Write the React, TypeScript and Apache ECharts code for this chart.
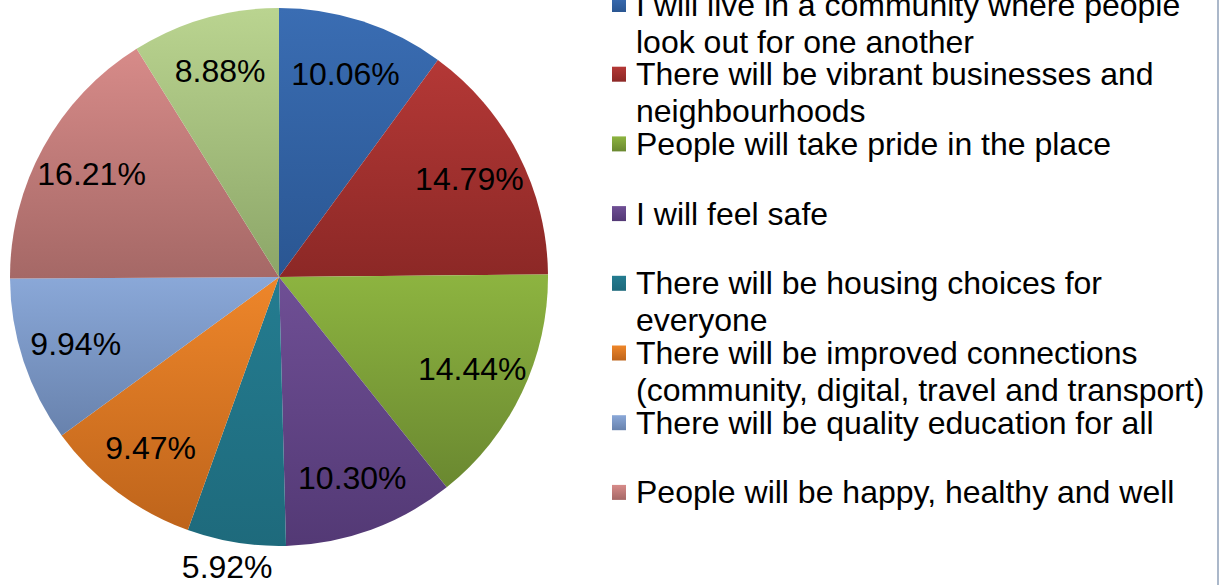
import React, { useEffect, useRef } from "react";
import * as echarts from "echarts";

const categories = [
  "I will live in a community where people look out for one another",
  "There will be vibrant businesses and neighbourhoods",
  "People will take pride in the place",
  "I will feel safe",
  "There will be housing choices for everyone",
  "There will be improved connections (community, digital, travel and transport)",
  "There will be quality education for all",
  "People will be happy, healthy and well",
  "Other",
];

const legendLines = [
  ["I will live in a community where people", "look out for one another"],
  ["There will be vibrant businesses and", "neighbourhoods"],
  ["People will take pride in the place", " "],
  ["I will feel safe", " "],
  ["There will be housing choices for", "everyone"],
  ["There will be improved connections", "(community, digital, travel and transport)"],
  ["There will be quality education for all", " "],
  ["People will be happy, healthy and well", " "],
  ["Other", " "],
];

const values = [10.06, 14.79, 14.44, 10.3, 5.92, 9.47, 9.94, 16.21, 8.88];

const topColors = ["#3A6DB3", "#B43836", "#8DB440", "#6F4F95", "#247C90", "#EE862A", "#8AA8D8", "#D78B89", "#BAD490"];
const bottomColors = ["#2A5692", "#8C2826", "#6A8830", "#533975", "#1E6A7C", "#BE641B", "#6882AD", "#A56866", "#8CA668"];

const outsideLabelIndex = 4;
const FONT = "'Liberation Sans', Arial, sans-serif";

export default function App() {
  const ref = useRef<HTMLDivElement>(null);
  useEffect(() => {
    if (!ref.current) return;
    const chart = echarts.init(ref.current, undefined, { renderer: "svg" });
    const grad = (i: number) =>
      new echarts.graphic.LinearGradient(0, 0, 0, 1, [
        { offset: 0, color: topColors[i] },
        { offset: 1, color: bottomColors[i] },
      ]);
    const mainData = categories.map((name, i) => ({
      name,
      value: values[i],
      itemStyle: { color: grad(i) },
    }));
    const labelData = categories.map((name, i) => {
      const item: any = { name, value: values[i] };
      if (i === outsideLabelIndex) {
        item.label = { position: "outside" };
        item.labelLine = { show: false, length: 25, length2: 0 };
      }
      return item;
    });
    const legendMap: Record<string, string> = {};
    categories.forEach((c, i) => (legendMap[c] = " \n" + legendLines[i].join("\n")));

    chart.setOption({
      animation: false,
      backgroundColor: "#ffffff",
      legend: {
        orient: "vertical",
        left: 612,
        top: -51,
        padding: 0,
        itemWidth: 14,
        itemHeight: 15,
        itemGap: -41.3,
        icon: "rect",
        selectedMode: false,
        itemStyle: { borderWidth: 0 },
        data: categories.slice(0, 8),
        formatter: (name: string) => legendMap[name],
        textStyle: {
          fontSize: 32,
          fontFamily: FONT,
          color: "#000000",
          lineHeight: 37,
          padding: [0, 0, 0, 5],
        },
      },
      graphic: [
        {
          type: "line",
          shape: { x1: 1218, y1: 0, x2: 1218, y2: 585 },
          style: { stroke: "#8FA1B8", lineWidth: 1.5 },
          silent: true,
        },
      ],
      series: [
        {
          type: "pie",
          center: [279, 277],
          radius: 269,
          startAngle: 90,
          clockwise: true,
          avoidLabelOverlap: false,
          silent: true,
          label: { show: false },
          labelLine: { show: false },
          itemStyle: { borderWidth: 0 },
          emphasis: { disabled: true },
          data: mainData,
        },
        {
          type: "pie",
          center: [279, 277],
          radius: [153, 269],
          startAngle: 90,
          clockwise: true,
          avoidLabelOverlap: false,
          silent: true,
          itemStyle: { color: "rgba(0,0,0,0)", borderWidth: 0 },
          emphasis: { disabled: true },
          label: {
            show: true,
            position: "inside",
            fontSize: 32,
            fontFamily: FONT,
            color: "#000000",
            formatter: (p: any) => Number(p.value).toFixed(2) + "%",
          },
          labelLine: { show: false },
          labelLayout: { align: "center" },
          data: labelData,
        },
      ],
    });
    return () => chart.dispose();
  }, []);
  return (
    <div
      ref={ref}
      style={{ position: "absolute", left: 0, top: 0, width: 1226, height: 585 }}
    />
  );
}
